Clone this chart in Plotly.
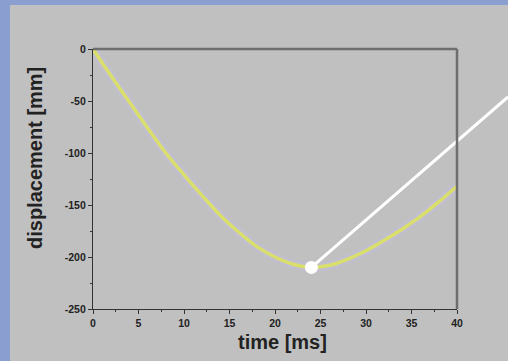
import plotly.graph_objects as go
import numpy as np

time_ms = [0, 2, 4, 6, 8, 10, 12, 14, 16, 18, 20, 22, 24, 26, 28, 30, 32, 34, 36, 38, 40]
displacement_mm = [0, -26, -51, -76, -100, -121, -141, -160, -176, -190, -200, -207, -210,
                   -208, -202, -194, -184, -173, -161, -147, -132]
x_ticks = [0, 5, 10, 15, 20, 25, 30, 35, 40]
y_ticks = [0, -50, -100, -150, -200, -250]
X_RANGE = [0, 40]
Y_RANGE = [-250, 0]

i_min = int(np.argmin(displacement_mm))
t_min, d_min = time_ms[i_min], displacement_mm[i_min]

BLUE = "#8a9fcf"
GREY = "#c0c0c0"
FONT = "Liberation Sans, Arial, sans-serif"

fig = go.Figure()
fig.add_trace(go.Scatter(x=time_ms, y=displacement_mm, mode="lines",
                         line=dict(color="rgba(196,190,226,0.45)", width=9, shape="spline"),
                         hoverinfo="skip", showlegend=False))
fig.add_trace(go.Scatter(x=time_ms, y=displacement_mm, mode="lines",
                         line=dict(color="#dadf6c", width=3.5, shape="spline"), showlegend=False))

# grey panel
fig.add_shape(type="rect", xref="paper", yref="paper", x0=-(93 - 10) / 364, x1=(508 - 93) / 364 + 0.01,
              y0=-52 / 260 - 0.01, y1=1 + (49 - 5) / 260,
              fillcolor=GREY, line=dict(width=0), layer="below")

# pointer line (starts at the curve minimum, converted to paper coordinates)
px0 = (t_min - X_RANGE[0]) / (X_RANGE[1] - X_RANGE[0])
py0 = (d_min - Y_RANGE[0]) / (Y_RANGE[1] - Y_RANGE[0])
fig.add_shape(type="line", xref="paper", yref="paper", x0=px0, y0=py0,
              x1=(508 - 93) / 364, y1=(309 - 97) / 260,
              line=dict(color="white", width=3), layer="above")
fig.add_trace(go.Scatter(x=[t_min], y=[d_min], mode="markers", marker=dict(color="white", size=13),
                         cliponaxis=False, showlegend=False))

axis_common = dict(showgrid=False, zeroline=False, showline=True, linecolor="#333333", linewidth=1.2,
                   mirror=False, ticks="outside", ticklen=4, tickwidth=1, tickcolor="#333333",
                   tickfont=dict(family=FONT, size=10.5, color="#222222", weight="bold"))
fig.update_xaxes(range=X_RANGE, tickvals=x_ticks, ticktext=[str(v) for v in x_ticks],
                 minor=dict(dtick=2.5, ticks="outside", ticklen=2, tickcolor="#333333"), **axis_common)
fig.update_yaxes(range=Y_RANGE, tickvals=y_ticks, ticktext=[str(v) for v in y_ticks],
                 minor=dict(dtick=25, ticks="outside", ticklen=2, tickcolor="#333333"), **axis_common)

# top/right frame
fig.add_shape(type="line", xref="paper", yref="paper", x0=0, x1=1, y0=1, y1=1, line=dict(color="#6e6e6e", width=2.5))
fig.add_shape(type="line", xref="paper", yref="paper", x0=1, x1=1, y0=0, y1=1, line=dict(color="#6e6e6e", width=2.5))

fig.add_annotation(text="time [ms]", xref="paper", yref="paper", x=(282 - 93) / 364, y=-(342 - 309) / 260,
                   showarrow=False, font=dict(family=FONT, size=20, color="#222222", weight="bold"), yanchor="middle")
fig.add_annotation(text="displacement [mm]", xref="paper", yref="paper", x=-(93 - 35) / 364, y=(309 - 158) / 260,
                   textangle=-90, showarrow=False, font=dict(family=FONT, size=20, color="#222222", weight="bold"),
                   xanchor="center", yanchor="middle")

fig.update_layout(width=508, height=361, margin=dict(l=93, r=51, t=49, b=52),
                  paper_bgcolor=BLUE, plot_bgcolor=GREY, showlegend=False)
fig.write_html("out.html", config={"displayModeBar": False},
               post_script="document.body.style.margin='0';document.body.style.overflow='hidden';")
